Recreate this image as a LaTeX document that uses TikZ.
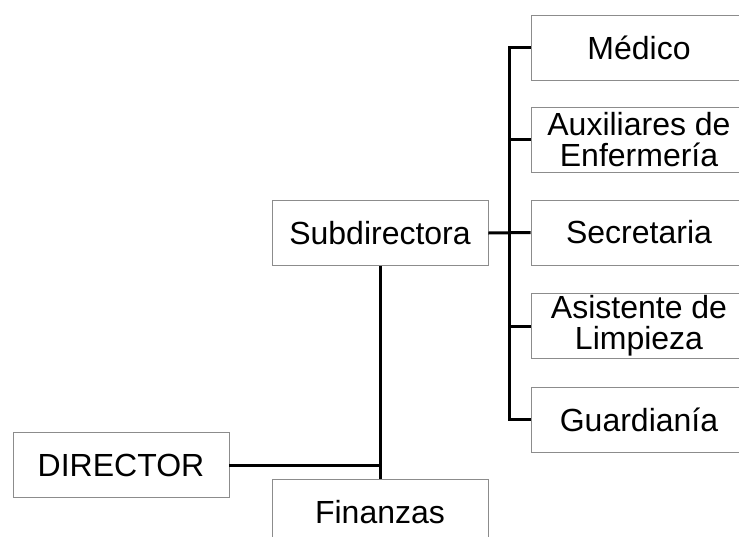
\documentclass[tikz,border=0pt]{standalone}
\usepackage{fontspec}
\setmainfont{Liberation Sans}
\usetikzlibrary{positioning, calc}

\begin{document}
\begin{tikzpicture}[x=1pt, y=-1pt,
	box/.style={draw=black!45, line width=0.9pt, fill=white, minimum width=216pt, minimum height=65pt, inner sep=1pt, align=center, font=\fontsize{32}{31}\selectfont},
	link/.style={line width=3pt, black}]

	\clip (0,0) rectangle (739,536);

	\node[box] (D) at (121,465)	{DIRECTOR};
	\node[box] (S) at (380,233)	{Subdirectora};
	\node[box] (F) at (380,512)	{Finanzas};

	\node[box] (M) at (639,47.5)	{Médico};
	\node[box] (A) at (639,139.5)	{Auxiliares de\\Enfermería};
	\node[box] (C) at (639,232.5)	{Secretaria};
	\node[box] (L) at (639,326)	{Asistente de\\Limpieza};
	\node[box] (G) at (639,419.5)	{Guardianía};

	\coordinate (J) at (380,465);
	\coordinate (K) at (509,232.5);

	\draw[link] (S.south) -- (F.north);
	\draw[link] (D.east) -- (J);
	\draw[link] (S.east) -- (C.west);
	\draw[link] (M.west) -| (K) |- (G.west);
	\draw[link] (A.west) -- (A.west -| K);
	\draw[link] (L.west) -- (L.west -| K);
\end{tikzpicture}
\end{document}
